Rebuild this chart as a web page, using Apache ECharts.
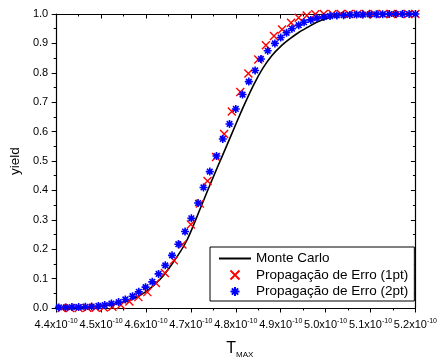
<!DOCTYPE html>
<html>
<head>
<meta charset="utf-8">
<script src="https://cdn.jsdelivr.net/npm/echarts@6/dist/echarts.min.js"></script>
<style>
html,body{margin:0;padding:0;background:#fff;}
#c{width:440px;height:364px;}
</style>
</head>
<body>
<div id="c"></div>
<script>
// x values are in units of 1e-10 (T_MAX)
const seriesNames = ['Monte Carlo', 'Propagação de Erro (1pt)', 'Propagação de Erro (2pt)'];

const mcX = [4.40,4.45,4.50,4.54,4.57,4.60,4.63,4.66,4.69,4.72,4.74,4.76,4.78,4.80,4.82,4.84,4.86,4.88,4.90,4.92,4.94,4.96,4.98,5.00,5.03,5.06,5.10,5.20];
const mcY = [0.000,0.001,0.006,0.016,0.030,0.056,0.095,0.154,0.227,0.335,0.410,0.482,0.553,0.625,0.695,0.760,0.815,0.858,0.890,0.915,0.937,0.955,0.972,0.984,0.994,0.998,1.000,1.000];

const p1X = [4.412,4.431,4.450,4.469,4.488,4.506,4.525,4.544,4.563,4.583,4.603,4.622,4.642,4.662,4.681,4.700,4.720,4.737,4.756,4.774,4.791,4.810,4.828,4.850,4.867,4.885,4.903,4.923,4.940,4.958,4.977,4.996,5.015,5.034,5.052,5.071,5.090,5.109,5.128,5.146,5.165,5.184,5.200];
const p1Y = [0.000,0.000,0.000,0.001,0.001,0.002,0.004,0.010,0.022,0.037,0.054,0.085,0.119,0.162,0.216,0.284,0.355,0.432,0.514,0.592,0.668,0.735,0.798,0.845,0.894,0.925,0.947,0.970,0.987,0.995,0.999,1.000,1.000,1.000,1.000,1.000,1.000,1.000,1.000,1.000,1.000,1.000,1.000];

const p2X = [4.406,4.421,4.435,4.450,4.465,4.479,4.494,4.508,4.523,4.539,4.554,4.570,4.584,4.599,4.614,4.628,4.643,4.658,4.672,4.687,4.701,4.716,4.728,4.742,4.757,4.771,4.786,4.800,4.815,4.829,4.843,4.856,4.871,4.887,4.900,4.913,4.925,4.940,4.952,4.967,4.981,4.996,5.010,5.025,5.040,5.054,5.069,5.083,5.098,5.113,5.127,5.142,5.156,5.171,5.186,5.200];
const p2Y = [0.002,0.002,0.003,0.003,0.004,0.005,0.007,0.010,0.015,0.020,0.029,0.040,0.055,0.071,0.089,0.116,0.145,0.179,0.217,0.260,0.305,0.357,0.410,0.464,0.517,0.575,0.626,0.677,0.726,0.770,0.808,0.847,0.875,0.900,0.920,0.936,0.950,0.962,0.972,0.980,0.986,0.990,0.993,0.995,0.996,0.997,0.998,0.998,0.999,0.999,0.999,1.000,1.000,1.000,1.000,1.000];

const xMin = 4.4, xMax = 5.2, xStep = 0.1;
const yMin = 0, yMax = 1.0, yStep = 0.1;

const zip = (xs, ys) => xs.map((x, i) => [x, ys[i]]);
const FONT = 'Liberation Sans, Arial, sans-serif';

const crossPath = 'path://M0,0L10,10M10,0L0,10';
const starPath = 'path://M5,0L5,10M0,5L10,5M1.5,1.5L8.5,8.5M8.5,1.5L1.5,8.5';

const axisCommon = {
  type: 'value',
  axisLine: {show: true, onZero: false, lineStyle: {color: '#000', width: 1.2}},
  splitLine: {show: false},
  minorTick: {show: true, splitNumber: 2, length: 2.5, lineStyle: {color: '#000', width: 1}},
  minorSplitLine: {show: false}
};

const chart = echarts.init(document.getElementById('c'), null, {renderer: 'canvas'});
chart.setOption({
  backgroundColor: '#fff',
  animation: false,
  grid: {left: 53, top: 14, width: 368, height: 299, containLabel: false},
  legend: {
    orient: 'vertical',
    left: 210, top: 247,
    padding: [4, 6, 2, 8],
    itemGap: 1.5,
    itemWidth: 32,
    itemHeight: 9,
    borderColor: '#000',
    borderWidth: 1,
    borderRadius: 0,
    backgroundColor: '#fff',
    textStyle: {fontFamily: FONT, fontSize: 13.5, color: '#000', lineHeight: 15},
    data: seriesNames
  },
  xAxis: [
    Object.assign({}, axisCommon, {
      position: 'bottom', min: xMin, max: xMax, interval: xStep,
      axisTick: {show: true, inside: false, length: 4.5, lineStyle: {color: '#000', width: 1}},
      axisLabel: {
        show: true, margin: 10, showMaxLabel: true, showMinLabel: true,
        formatter: v => '{a|' + v.toFixed(1) + 'x10}{b|-10}',
        rich: {
          a: {fontFamily: FONT, fontSize: 11, color: '#000', lineHeight: 14},
          b: {fontFamily: FONT, fontSize: 7, color: '#000', verticalAlign: 'top', lineHeight: 9}
        }
      },
      name: '{t|T}{s|MAX}',
      nameLocation: 'middle',
      nameGap: 31,
      nameTextStyle: {
        padding: [0, 0, 0, 8],
        rich: {
          t: {fontFamily: FONT, fontSize: 16, color: '#000', lineHeight: 20},
          s: {fontFamily: FONT, fontSize: 8, color: '#000', verticalAlign: 'bottom', lineHeight: 8}
        }
      }
    }),
    Object.assign({}, axisCommon, {
      position: 'top', min: xMin, max: xMax, interval: xStep,
      axisTick: {show: true, inside: true, length: 4.5, lineStyle: {color: '#000', width: 1}},
      axisLabel: {show: false}
    })
  ],
  yAxis: [
    Object.assign({}, axisCommon, {
      position: 'left', min: yMin, max: yMax, interval: yStep,
      axisTick: {show: true, inside: false, length: 4.5, lineStyle: {color: '#000', width: 1}},
      axisLabel: {show: true, margin: 8, fontFamily: FONT, fontSize: 11, color: '#000',
        formatter: v => v.toFixed(1)},
      name: 'yield',
      nameLocation: 'middle',
      nameRotate: 90,
      nameGap: 26,
      nameTextStyle: {fontFamily: FONT, fontSize: 13.5, color: '#000'}
    }),
    Object.assign({}, axisCommon, {
      position: 'right', min: yMin, max: yMax, interval: yStep,
      axisTick: {show: true, inside: true, length: 4.5, lineStyle: {color: '#000', width: 1}},
      axisLabel: {show: false}
    })
  ],
  series: [
    {
      name: seriesNames[0], type: 'line', xAxisIndex: 0, yAxisIndex: 0,
      data: zip(mcX, mcY), smooth: 0.3, symbol: 'none', showSymbol: false,
      lineStyle: {color: '#000', width: 1.6},
      itemStyle: {color: 'rgba(0,0,0,0)', borderColor: 'rgba(0,0,0,0)', borderWidth: 0}, z: 2
    },
    {
      name: seriesNames[1], type: 'scatter', xAxisIndex: 0, yAxisIndex: 0,
      data: zip(p1X, p1Y), symbol: crossPath, symbolSize: 8,
      itemStyle: {color: '#ff0000', borderColor: '#ff0000', borderWidth: 1.4, opacity: 1}, z: 3
    },
    {
      name: seriesNames[2], type: 'scatter', xAxisIndex: 0, yAxisIndex: 0,
      data: zip(p2X, p2Y), symbol: starPath, symbolSize: 8,
      itemStyle: {color: '#0000ff', borderColor: '#0000ff', borderWidth: 1.6, opacity: 1}, z: 4
    }
  ]
});
</script>
</body>
</html>
